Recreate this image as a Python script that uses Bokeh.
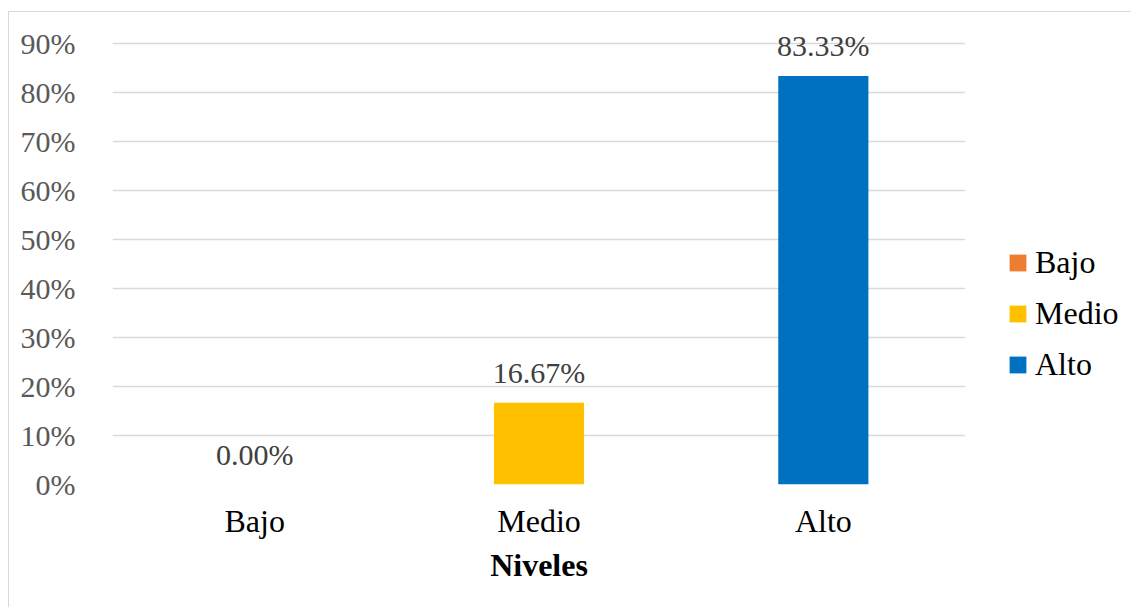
from bokeh.plotting import figure
from bokeh.layouts import row
from bokeh.models import ColumnDataSource, Legend, LegendItem, FixedTicker, NumeralTickFormatter, Range1d
from bokeh.core.properties import value
from bokeh.embed import file_html
from bokeh.resources import INLINE

categories = ["Bajo", "Medio", "Alto"]
values = [0.0, 0.1667, 0.8333]
labels = ["0.00%", "16.67%", "83.33%"]
colors = ["#ED7D31", "#FFC000", "#0070C0"]
y_ticks = [0.0, 0.1, 0.2, 0.3, 0.4, 0.5, 0.6, 0.7, 0.8, 0.9]

FONT = "Liberation Serif"

p = figure(x_range=categories, y_range=Range1d(0, 0.93), width=956, height=595,
           output_backend="svg", toolbar_location=None,
           min_border_left=103, min_border_top=16, min_border_right=0, min_border_bottom=123)
p.outline_line_color = None
p.background_fill_color = "white"
p.border_fill_color = "white"

for cat, v, c in zip(categories, values, colors):
    src = ColumnDataSource(dict(x=[cat], top=[v]))
    p.vbar(x="x", top="top", width=0.317, source=src, fill_color=c, line_color=None)

lsrc = ColumnDataSource(dict(x=categories, y=values, t=labels))
p.text(x="x", y="y", text="t", source=lsrc, text_align="center", text_baseline="alphabetic",
       y_offset=-30, text_font=value(FONT), text_font_size="30px", text_color="#404040")

p.yaxis.ticker = FixedTicker(ticks=y_ticks)
p.yaxis.formatter = NumeralTickFormatter(format="0%")
p.yaxis.major_label_text_font = FONT
p.yaxis.major_label_text_font_size = "30px"
p.yaxis.major_label_text_color = "#595959"
p.yaxis.major_label_standoff = 31
p.yaxis.axis_line_color = None
p.yaxis.major_tick_line_color = None
p.yaxis.minor_tick_line_color = None

p.xaxis.major_label_text_font = FONT
p.xaxis.major_label_text_font_size = "32px"
p.xaxis.major_label_text_color = "#000000"
p.xaxis.major_label_standoff = 12
p.xaxis.axis_line_color = None
p.xaxis.major_tick_line_color = None
p.xaxis.axis_label = "Niveles"
p.xaxis.axis_label_text_font = FONT
p.xaxis.axis_label_text_font_size = "32px"
p.xaxis.axis_label_text_font_style = "bold"
p.xaxis.axis_label_text_color = "#000000"
p.xaxis.axis_label_standoff = 5

p.xgrid.grid_line_color = None
p.ygrid.grid_line_color = "#d9d9d9"
p.ygrid.grid_line_width = 1.5

# legend panel (separate figure so that the legend is not clipped by the bar frame)
p2 = figure(width=166, height=595, x_range=(0, 1), y_range=(0, 1),
            output_backend="svg", toolbar_location=None,
            x_axis_type=None, y_axis_type=None,
            min_border_left=0, min_border_right=0, min_border_top=0, min_border_bottom=0)
p2.outline_line_color = None
p2.grid.visible = False
items = []
for cat, v, c in zip(categories, values, colors):
    src2 = ColumnDataSource(dict(x=[5.0], top=[v]))
    r = p2.vbar(x="x", top="top", width=0.5, source=src2, fill_color=c, line_color=None)
    items.append(LegendItem(label=cat, renderers=[r]))

legend = Legend(items=items, location=(42, 101), orientation="vertical")
legend.label_text_font = FONT
legend.label_text_font_size = "32px"
legend.label_text_color = "#000000"
legend.glyph_width = 21
legend.glyph_height = 21
legend.spacing = 14
legend.border_line_color = None
legend.background_fill_alpha = 0
legend.padding = 0
legend.margin = 0
legend.label_standoff = 7
p2.add_layout(legend, "center")

layout = row(p, p2)
layout.styles = {"margin-top": "11px", "margin-left": "8px",
                 "border-left": "1px solid #d9d9d9", "border-top": "1px solid #d9d9d9"}

open("out.html", "w").write(file_html(layout, INLINE))
